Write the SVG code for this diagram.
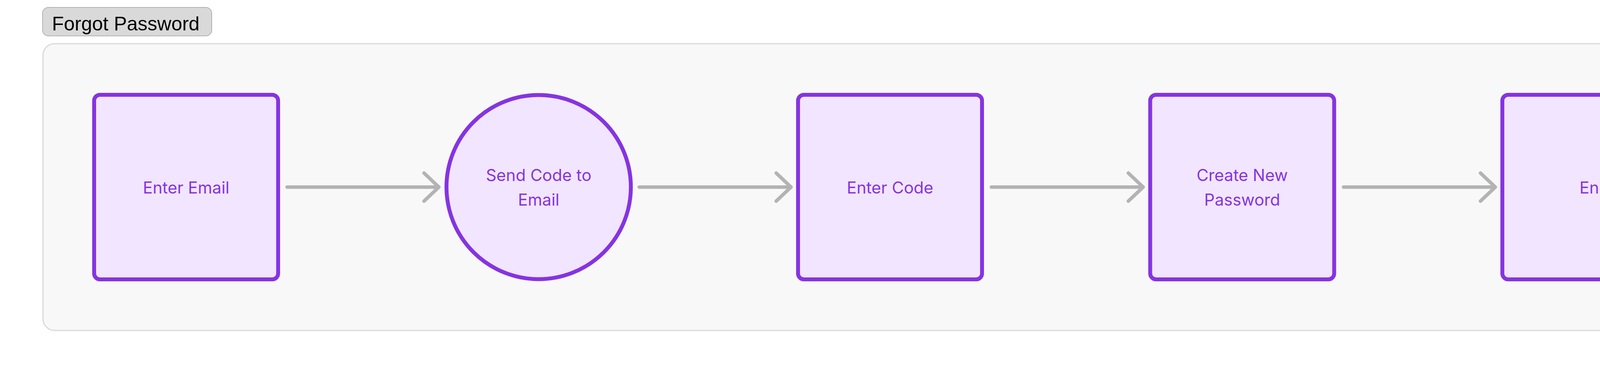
<svg xmlns="http://www.w3.org/2000/svg" width="4560" height="956" viewBox="0 0 4560 956">
<style>
.node{fill:#f2e5ff;stroke:#8534e1;stroke-width:10}
.lbl{font-family:Inter,"Liberation Sans",sans-serif;font-size:42px;fill:#8534e1;text-anchor:middle}
.conn{fill:none;stroke:#b3b3b3;stroke-width:9;stroke-linecap:round;stroke-linejoin:round}
</style>
<rect width="4560" height="956" fill="#ffffff"/>
<g id="group-forgot-password">
<rect x="110" y="112" width="4340" height="735" rx="30" fill="#f8f8f8" stroke="#d9d9d9" stroke-width="3"/>
<rect x="109" y="19" width="433" height="73" rx="15" fill="#d9d9d9" stroke="#b3b3b3" stroke-width="2"/>
<text x="133" y="78" font-family="'Liberation Sans',Arial,sans-serif" font-size="50" fill="#000000">Forgot Password</text>
</g>
<g id="connectors">
<path class="conn" d="M735 479.5H1123.5M1085.5 443.5L1123.5 479.5L1085.5 515.5"/>
<path class="conn" d="M1636.5 479.5H2025M1987 443.5L2025 479.5L1987 515.5"/>
<path class="conn" d="M2538 479.5H2926.5M2888.5 443.5L2926.5 479.5L2888.5 515.5"/>
<path class="conn" d="M3439.5 479.5H3828M3790 443.5L3828 479.5L3790 515.5"/>
</g>
<g id="node-enter-email">
<rect class="node" x="241" y="243" width="471" height="473" rx="15"/>
<text class="lbl" x="476.5" y="495.5">Enter Email</text>
</g>
<g id="node-send-code">
<circle class="node" cx="1379" cy="479.5" r="236"/>
<text class="lbl" x="1379" y="463.5">Send Code to</text>
<text class="lbl" x="1379" y="527">Email</text>
</g>
<g id="node-enter-code">
<rect class="node" x="2043" y="243" width="471" height="473" rx="15"/>
<text class="lbl" x="2278.5" y="495.5">Enter Code</text>
</g>
<g id="node-create-password">
<rect class="node" x="2944.5" y="243" width="471" height="473" rx="15"/>
<text class="lbl" x="3180" y="463.5">Create New</text>
<text class="lbl" x="3180" y="527">Password</text>
</g>
<g id="node-end">
<rect class="node" x="3846" y="243" width="471" height="473" rx="15"/>
<text class="lbl" x="4081.5" y="495.5">End</text>
</g>
</svg>
